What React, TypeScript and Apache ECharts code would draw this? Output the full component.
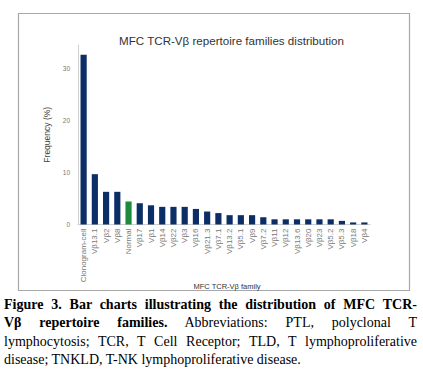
import React, { useEffect, useRef } from "react";
import * as echarts from "echarts";

const categories = [
  "Clonogram-cell", "Vβ13.1", "Vβ2", "Vβ8", "Normal", "Vβ17", "Vβ1", "Vβ14", "Vβ22", "Vβ3",
  "Vβ16", "Vβ21.3", "Vβ7.1", "Vβ13.2", "Vβ5.1", "Vβ9", "Vβ7.2", "Vβ11", "Vβ12", "Vβ13.6",
  "Vβ20", "Vβ23", "Vβ5.2", "Vβ5.3", "Vβ18", "Vβ4",
];
const frequencies = [
  32.7, 9.7, 6.3, 6.3, 4.45, 4.1, 3.7, 3.4, 3.4, 3.4,
  3.0, 2.5, 2.2, 1.8, 1.8, 1.8, 1.4, 1.0, 1.0, 1.0,
  1.0, 1.0, 1.0, 0.7, 0.4, 0.4,
];
const highlightCategory = "Normal";
const yTicks = [0, 10, 20, 30];

const captionLines = [
  { bold: "Figure 3. Bar charts illustrating the distribution of MFC TCR-", rest: "" },
  { bold: "Vβ repertoire families.", rest: " Abbreviations: PTL, polyclonal T" },
  { bold: "", rest: "lymphocytosis; TCR, T Cell Receptor; TLD, T lymphoproliferative" },
  { bold: "", rest: "disease; TNKLD, T-NK lymphoproliferative disease." },
];

const NAVY = "#0c2e66";
const GREEN = "#1d8a3c";
const SANS = "Liberation Sans, Arial, sans-serif";

export default function App() {
  const ref = useRef<HTMLDivElement>(null);
  useEffect(() => {
    if (!ref.current) return;
    const chart = echarts.init(ref.current, null, { renderer: "svg" });
    chart.setOption({
      animation: false,
      textStyle: { fontFamily: SANS },
      graphic: [
        {
          type: "rect",
          shape: { x: 18.5, y: 13.5, width: 391, height: 277 },
          style: { fill: "none", stroke: "#a8a8a8", lineWidth: 1.2 },
          silent: true,
        },
        {
          type: "text",
          x: 231.5,
          y: 40,
          style: {
            text: "MFC TCR-Vβ repertoire families distribution",
            fontSize: 11.6,
            fill: "#333",
            fontFamily: SANS,
            align: "center",
            verticalAlign: "middle",
          },
          silent: true,
        },
        {
          type: "text",
          x: 227,
          y: 286,
          style: {
            text: "MFC TCR-Vβ family",
            fontSize: 7.5,
            fill: "#333",
            fontFamily: SANS,
            align: "center",
            verticalAlign: "middle",
          },
          silent: true,
        },
      ],
      grid: { left: 78, right: 53, top: 45, bottom: 377 - 224.5, containLabel: false },
      xAxis: {
        type: "category",
        data: categories,
        axisLine: { show: true, lineStyle: { color: "#cfcfcf", width: 1 } },
        axisTick: { show: false },
        axisLabel: { rotate: 90, fontSize: 8, color: "#777", margin: 4, interval: 0 },
      },
      yAxis: {
        type: "value",
        min: 0,
        max: 34.6,
        interval: 10,
        name: "Frequency (%)",
        nameLocation: "middle",
        nameRotate: 90,
        nameGap: 18,
        nameTextStyle: { fontSize: 8.5, color: "#444" },
        axisLine: { show: true, lineStyle: { color: "#cfcfcf", width: 1 } },
        axisTick: { show: false },
        splitLine: { show: false },
        axisLabel: {
          fontSize: 6.5,
          color: "#777",
          margin: 8,
          showMaxLabel: false,
          formatter: (v: number) => (yTicks.includes(v) ? String(v) : ""),
        },
      },
      series: [
        {
          type: "bar",
          data: frequencies.map((v, i) => ({
            value: v,
            itemStyle: { color: categories[i] === highlightCategory ? GREEN : NAVY },
          })),
          barCategoryGap: "45%",
        },
      ],
    });
    return () => chart.dispose();
  }, []);

  return (
    <div style={{ position: "absolute", left: 0, top: 0, width: 423, height: 377, background: "#fff" }}>
      <div ref={ref} style={{ position: "absolute", left: 0, top: 0, width: 423, height: 377 }} />
      <div
        style={{
          position: "absolute",
          left: 4,
          top: 296,
          width: 413,
          fontFamily: "Liberation Serif, Times New Roman, serif",
          fontSize: 14,
          lineHeight: "18.3px",
          color: "#000",
        }}
      >
        {captionLines.map((l, i) => (
          <div
            key={i}
            style={{
              textAlign: "justify",
              textAlignLast: i < captionLines.length - 1 ? "justify" : "left",
              whiteSpace: "nowrap",
            }}
          >
            {l.bold && <b>{l.bold}</b>}
            {l.rest}
          </div>
        ))}
      </div>
    </div>
  );
}
